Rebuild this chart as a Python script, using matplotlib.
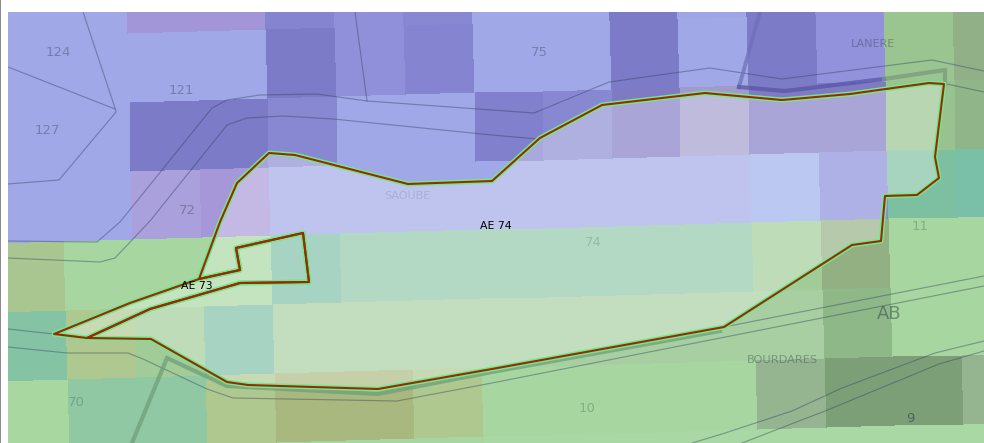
import numpy as np
import matplotlib
matplotlib.use("Agg")
import matplotlib.pyplot as plt
from matplotlib.colors import to_rgb
from matplotlib.patches import Polygon, Rectangle

# --- data (pixel-based map coordinates) ---
B = '#A0A8E8'; D = '#7B7BC8'; M = '#8888D2'; P = '#A296D8'; L = '#9292DC'
G = '#A8D6A0'; K = '#8FB888'; T = '#7ABFA8'; O = '#AEC890'; Q = '#A9B87E'
H = '#90C8A4'; V = '#A7CFA1'; R = '#7DBFA5'; W = '#8FC5A7'; X1 = '#7D9F78'; Y1 = '#95B590'

column_edges = [-11, 58, 127, 196, 265, 334, 403, 472, 540, 609, 677, 746, 815, 883, 952, 1021]
row_edges = [-32, 37, 106, 175, 243, 312, 381, 450, 519]
cell_rows = [
    [B, B, P, P, '#8585CF', '#9090DA', M, B, B, D, '#9FA6E6', D, L, '#9AC490', '#92B088'],
    [B, B, B, B, D, '#9090DA', '#8484D0', B, B, D, B, D, L, '#9AC490', '#92B088'],
    [B, B, D, D, M, B, B, '#8080CC', M, '#7F7AC2', '#A19ACC', '#7F7AC2', '#7F7AC2', '#98C28F', '#90B588'],
    [B, B, '#A9A0DC', '#A698D8', B, B, B, B, B, B, B, '#9BAEEB', '#858CDA', '#7DBFA1', T],
    ['#A9C690', G, G, G, '#7DBFA5', W, W, W, W, W, W, '#A1CC98', '#93B082', G, G],
    ['#84C4A4', O, '#A1CC98', R, V, V, V, V, V, V, V, V, K, G, G],
    ['#A8D8A0', H, H, O, Q, Q, O, G, G, G, G, Y1, X1, X1, Y1],
    [G, G, G, G, G, G, G, '#AAD8A4', '#AAD8A4', '#AAD8A4', '#AAD8A4', '#AAD8A4', '#AAD8A4', '#AAD8A4', '#AAD8A4'],
]

ae74_x = [199, 220, 237, 269, 295, 408, 492, 540, 602, 705, 782, 850, 929, 944, 935, 939, 917, 885, 881, 852, 724, 492, 378, 248, 227, 151, 87, 150, 240, 309, 303, 236, 240]
ae74_y = [279, 222, 183, 153, 155, 184, 181, 138, 105, 93, 100, 94, 83, 84, 157, 178, 195, 196, 241, 245, 327, 369, 389, 385, 382, 339, 338, 309, 283, 282, 233, 248, 270]
ae73_x = [54, 130, 199, 240, 236, 303, 309, 240, 150, 87]
ae73_y = [334, 303, 279, 270, 248, 233, 282, 283, 309, 338]

thin_roads = [
    ([8, 97, 120, 212, 227, 260, 317, 367, 492, 534, 609, 710, 782, 932, 984], [241, 242, 222, 108, 100, 95, 94, 101, 110, 113, 82, 68, 79, 60, 71]),
    ([8, 100, 115, 150, 227, 247, 283, 333, 492, 537], [258, 262, 258, 221, 125, 118, 116, 119, 135, 139]),
    ([947, 984], [84, 92]),
    ([8, 54], [329, 334]),
    ([8, 67, 128, 143, 207, 233, 397, 492, 984], [347, 353, 353, 359, 389, 398, 401, 383, 286]),
    ([724, 984], [327, 276]),
    ([83, 115, 116, 59, 8], [12, 108, 112, 180, 184]),
    ([8, 115], [67, 109]),
    ([355, 367], [12, 101]),
    ([692, 722, 792, 842, 935, 984], [443, 434, 411, 388, 353, 341]),
    ([742, 825, 939, 984], [443, 411, 364, 351]),
]
thick_roads = [
    ([132, 167, 227, 378, 492, 720], [443, 358, 386, 394, 372, 331], '#6F9F78', 3.0),
    ([760, 739], [12, 87], '#7070B8', 2.8),
    ([739, 785, 884], [87, 91, 79], '#5656A6', 3.0),
    ([884, 945, 945], [79, 70, 84], '#7A9A7C', 3.0),
]

labels = ['124', '121', '127', '75', 'LANERE', '72', 'SAOUBE', '74', '11', 'AB', 'BOURDARES', '70', '10', '9']
label_x = [58, 181, 47, 539, 873, 187, 407, 593, 920, 889, 782, 76, 587, 910]
label_y = [52, 91, 130, 53, 44, 211, 196, 243, 226, 314, 360, 403, 409, 419]
label_size = [9.5, 9.5, 9.5, 9.5, 8, 9.5, 8, 9.5, 9.5, 13, 8.2, 9.5, 9.5, 9.5]
label_alpha = [.34, .34, .34, .34, .36, .34, .14, .18, .25, .45, .36, .25, .25, .5]
parcel_names = ['AE 74', 'AE 73']
parcel_x = [496, 197]
parcel_y = [226, 286]

# --- drawing ---
fig = plt.figure(figsize=(9.84, 4.43), dpi=100, facecolor='white')
fig.add_artist(Rectangle((0, 0), 1.2 / 984, 1, transform=fig.transFigure, color='#8C8C8C', lw=0))
ax = fig.add_axes([8 / 984, 0, 976 / 984, 431 / 443])
ax.set_xlim(8, 984)
ax.set_ylim(443, 12)
ax.axis('off')

tilt = 0.027
xe = np.array(column_edges, float)
ye = np.array(row_edges, float)
XX = xe[None, :] + tilt * (ye[:, None] - 12)
YY = ye[:, None] - tilt * (xe[None, :] - 8)
rgb = np.array([[to_rgb(c) for c in row] for row in cell_rows])
ax.pcolormesh(XX, YY, rgb, shading='flat', antialiased=False, linewidth=0, zorder=1)

for xs, ys in thin_roads:
    ax.plot(xs, ys, color='#33405F', alpha=.42, lw=.85, zorder=2)
for xs, ys, c, w in thick_roads:
    ax.plot(xs, ys, color=c, alpha=.75, lw=w, zorder=2, solid_joinstyle='miter')

rings = ((ae74_x, ae74_y), (ae73_x, ae73_y))
for px, py in rings:
    pts = np.column_stack([px, py])
    ax.add_patch(Polygon(pts, closed=True, facecolor='white', alpha=.33, edgecolor='none', zorder=3))
for px, py in rings:
    pts = np.column_stack([px, py])
    ax.add_patch(Polygon(pts, closed=True, fill=False, edgecolor='#70E890', lw=3.6, joinstyle='round', zorder=4))
for px, py in rings:
    pts = np.column_stack([px, py])
    ax.add_patch(Polygon(pts, closed=True, fill=False, edgecolor='#9C2A00', lw=1.5, joinstyle='round', zorder=5))

for t, x, y, s, a in zip(labels, label_x, label_y, label_size, label_alpha):
    ax.text(x, y, t, fontsize=s, color='#22303C', alpha=a, ha='center', va='center', zorder=6)
for t, x, y in zip(parcel_names, parcel_x, parcel_y):
    ax.text(x, y, t, fontsize=7.8, color='black', ha='center', va='center', zorder=7)

fig.savefig('out.png', dpi=100)
